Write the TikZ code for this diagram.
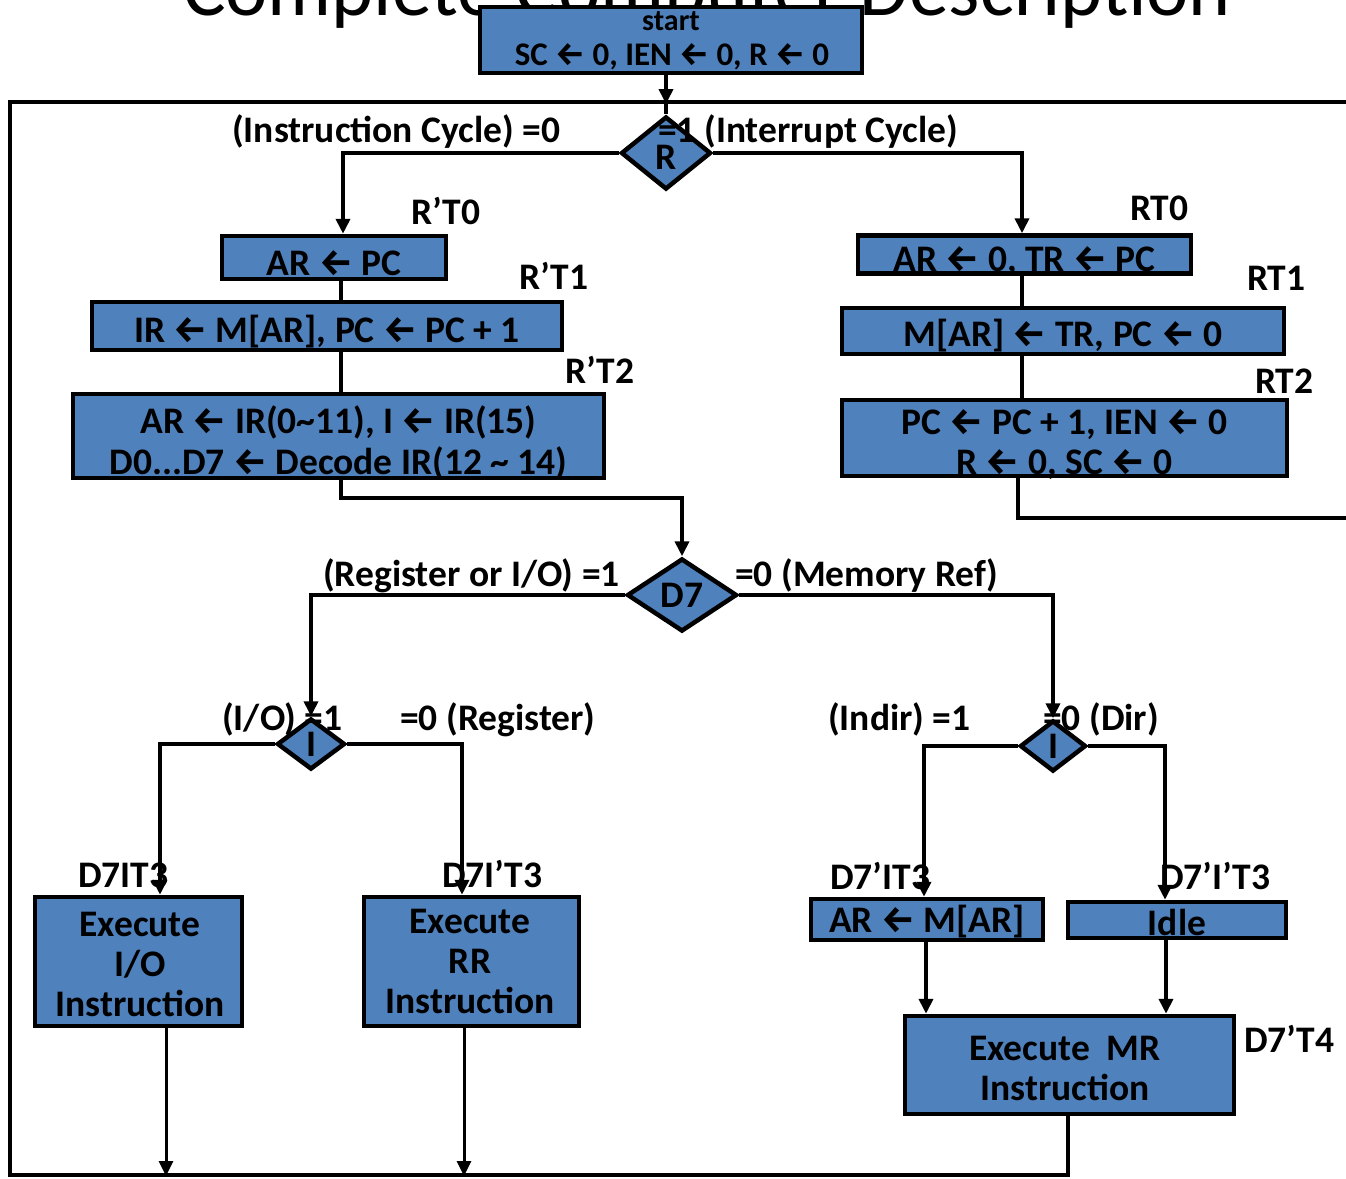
\documentclass[tikz,border=0pt]{standalone}
\usepackage{fontspec}
\setmainfont{Carlito}
\newfontfamily\arrowfont{Fira Sans}
\usetikzlibrary{shapes.geometric,arrows.meta}
\definecolor{boxblue}{RGB}{79,129,189}
% assignment arrow used in register-transfer statements
\newcommand\la{{\arrowfont\bfseries ←}}

\begin{document}
\begin{tikzpicture}[x=1pt,y=-1pt,
  every node/.style={font=\bfseries\fontsize{37.5}{40}\selectfont, text=black},
  blk/.style={draw=black, fill=boxblue, line width=4.5pt, inner sep=0pt, align=center},
  txt/.style={inner sep=0pt, align=center},
  dec/.style={blk, shape=diamond, aspect=1.2},
  lbl/.style={anchor=base west, inner sep=0pt},
  conn/.style={line width=4pt},
  arr/.style={conn, -{Triangle[length=15pt,width=14pt]}}]
\useasboundingbox (0,0) rectangle (1346,1178);
\clip (0,0) rectangle (1346,1178);

% heading (only its lower part lies inside the frame)
\node[font=\fontsize{80}{80}\selectfont, anchor=base, inner sep=0pt] (title) at (707,15) {Complete Computer Description};

% ---------- boxes ----------
\node[blk, minimum width=382pt, minimum height=66pt] (start) at (671,40) {};
\node[txt, font=\bfseries\fontsize{30}{30}\selectfont] (startA) at (671,21) {start};
\node[txt, font=\bfseries\fontsize{33}{33}\selectfont] (startB) at (672,57) {SC \la{} 0, IEN \la{} 0, R \la{} 0};

\node[dec, minimum width=90pt, minimum height=73pt] (R) at (666,153) {};
\node[txt] (Rt) at (666,157) {R};

\node[blk, minimum width=224pt, minimum height=43pt] (b0) at (334,257.5) {};
\node[txt] (b0t) at ([yshift=-6pt]b0.center) {AR \la{} PC};
\node[blk, minimum width=470pt, minimum height=48pt] (b1) at (327,326) {};
\node[txt] (b1t) at ([yshift=-6pt]b1.center) {IR \la{} M[AR], PC \la{} PC + 1};
\node[blk, minimum width=531pt, minimum height=84pt] (b2) at (338.5,436) {};
\node[txt, font=\bfseries\fontsize{37.5}{41}\selectfont] (b2t) at (338.5,442.5)
  {AR \la{} IR(0\textasciitilde11), I \la{} IR(15)\\D0...D7 \la{} Decode IR(12 \textasciitilde{} 14)};

\node[blk, minimum width=333pt, minimum height=38pt] (r0) at (1024.5,254.5) {};
\node[txt] (r0t) at ([yshift=-7pt]r0.center) {AR \la{} 0, TR \la{} PC};
\node[blk, minimum width=442pt, minimum height=46pt] (r1) at (1063,331) {};
\node[txt] (r1t) at ([yshift=-5pt]r1.center) {M[AR] \la{} TR, PC \la{} 0};
\node[blk, minimum width=445pt, minimum height=76pt] (r2) at (1064.5,438) {};
\node[txt] (r2t) at (1064.5,445)
  {PC \la{} PC + 1, IEN \la{} 0\\R \la{} 0, SC \la{} 0};

\node[dec, minimum width=110pt, minimum height=73pt] (D7) at (682,595) {D7};
\node[dec, minimum width=68pt, minimum height=51pt] (IL) at (311,744) {I};
\node[dec, minimum width=66pt, minimum height=51pt] (IR) at (1053,746) {I};

\node[blk, minimum width=207pt, minimum height=129pt] (exio) at (138.5,961.5) {};
\node[txt] (exiot) at (140,964.5) {Execute\\I/O\\Instruction};
\node[blk, minimum width=215pt, minimum height=129pt] (exrr) at (471.5,961.5) {};
\node[txt] (exrrt) at (470,961.5) {Execute\\RR\\Instruction};
\node[blk, minimum width=232pt, minimum height=41pt] (armar) at (927,919.5) {};
\node[txt] (armart) at ([yshift=-2pt]armar.center) {AR \la{} M[AR]};
\node[blk, minimum width=218pt, minimum height=36pt] (idle) at (1177,920) {};
\node[txt] (idlet) at ([yshift=-2pt]idle.center) {Idle};
\node[blk, minimum width=329pt, minimum height=98pt] (exmr) at (1069.5,1065) {};
\node[txt] (exmrt) at (1065,1068) {Execute~~MR\\Instruction};

% ---------- labels ----------
\node[lbl] (l1) at (232,142) {(Instruction Cycle) =0};
\node[lbl] (l2) at (658,142) {=1 (Interrupt Cycle)};
\node[lbl] (t0) at (411,224) {R’T0};
\node[lbl] (t1) at (519,289) {R’T1};
\node[lbl] (t2) at (565,383) {R’T2};
\node[lbl] (s0) at (1130,220) {RT0};
\node[lbl] (s1) at (1247,290) {RT1};
\node[lbl] (s2) at (1255,393) {RT2};
\node[lbl] (l3) at (323,586) {(Register or I/O) =1};
\node[lbl] (l4) at (735,586) {=0 (Memory Ref)};
\node[lbl] (l5) at (222,730) {(I/O) =1};
\node[lbl] (l6) at (400,730) {=0 (Register)};
\node[lbl] (l7) at (828,730) {(Indir) =1};
\node[lbl] (l8) at (1043,730) {=0 (Dir)};
\node[lbl] (c1) at (78,887) {D7IT3};
\node[lbl] (c2) at (442,887) {D7I’T3};
\node[lbl] (c3) at (830,889) {D7’IT3};
\node[lbl] (c4) at (1160,889) {D7’I’T3};
\node[lbl] (c5) at (1244,1052) {D7’T4};

% ---------- columns and junctions ----------
\coordinate (j)  at (666,104);
\coordinate (cA) at (343,0);
\coordinate (cB) at (341,0);
\coordinate (cC) at (1022,0);
\coordinate (cD) at (1018,518);
\coordinate (rr) at (1360,518);
\coordinate (dj) at (341,498);
\coordinate (cH) at (160,0);
\coordinate (cI) at (462,0);
\coordinate (cJ) at (924,0);
\coordinate (cK) at (1165,0);
\coordinate (cL) at (926,0);
\coordinate (cN) at (1166,0);
\coordinate (cO) at (166,0);
\coordinate (cP) at (464,0);
\coordinate (cM) at (1068,0);
\coordinate (bl) at (10,1175);
\coordinate (tl) at (10,102);
\coordinate (tr) at (1360,102);

% ---------- connectors ----------
\draw[conn] (cM |- exmr.south) -- (cM |- bl) -- (bl) -- (tl) -- (tr);
\draw[arr] (start.south -| j) -- (j);
\draw[conn] (j) -- (R.north);

\draw[arr] (R.west) -| (b0.north -| cA);
\draw[arr] (R.east) -| (r0.north -| cC);

\draw[conn] (b0.south -| cB) -- (b1.north -| cB);
\draw[conn] (b1.south -| cB) -- (b2.north -| cB);
\draw[arr] (b2.south -| dj) -- (dj) -| (D7.north);

\draw[conn] (r0.south -| cC) -- (r1.north -| cC);
\draw[conn] (r1.south -| cC) -- (r2.north -| cC);
\draw[conn] (r2.south -| cD) -- (cD) -- (rr);

\draw[arr] (D7.west) -| (IL.north);
\draw[arr] (D7.east) -| (IR.north);

\draw[arr] (IL.west) -| (exio.north -| cH);
\draw[arr] (IL.east) -| (exrr.north -| cI);
\draw[arr] (IR.west) -| (armar.north -| cJ);
\draw[arr] (IR.east) -| (idle.north -| cK);

\draw[arr] (armar.south -| cL) -- (exmr.north -| cL);
\draw[arr] (idle.south -| cN) -- (exmr.north -| cN);

\draw[arr, line width=3pt] (exio.south -| cO) -- ([yshift=-1pt]cO |- bl);
\draw[arr, line width=3pt] (exrr.south -| cP) -- ([yshift=-1pt]cP |- bl);
\end{tikzpicture}
\end{document}
